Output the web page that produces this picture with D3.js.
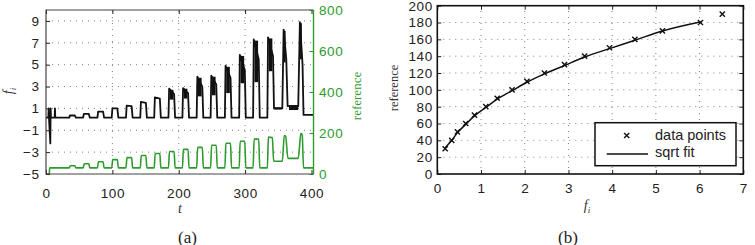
<!DOCTYPE html>
<html>
<head>
<meta charset="utf-8">
<script src="https://d3js.org/d3.v7.min.js"></script>
<style>
  body { margin: 0; background: #fff; }
  text { font-family: "Liberation Sans", Arial, sans-serif; }
</style>
</head>
<body>
<script>
// ---- panel (a): f_i over time (black) and reference (green) ----
var fLine = [
  [0,0.15],[3.5,0.15],[4,1],[4.5,0.1],[6.5,-2.2],[7,1],[7.5,0.15],[13,0.15],[13.5,1],[14,0.15],
  [35,0.15],[36,0.35],[43.5,0.35],[45,0.15],
  [56,0.15],[57,0.5],[64.5,0.5],[66,0.15],
  [77.5,0.15],[78.5,0.7],[86,0.7],[87.5,0.15],
  [99,0.15],[100,1.0],[107.5,1.0],[109,0.15],
  [120.5,0.15],[121.5,1.25],[129,1.2],[130.5,0.15],
  [142,0.15],[143,1.6],[150.5,1.5],[152,0.15],
  [163,0.15],[164,2.0],[171.5,1.9],[173,0.15],
  [184.5,0.15],[185.5,2.8],[193,2.3],[194.5,0.15],
  [205.5,0.15],[206.5,2.85],[214,2.4],[215.5,0.15],
  [227,0.15],[228,3.9],[235.5,3.0],[237,0.15],
  [248,0.15],[249,4.0],[256.5,3.2],[258,0.15],
  [269.5,0.15],[270.5,4.9],[278,3.8],[279.5,0.15],
  [291,0.15],[292,5.9],[299.5,4.5],[301,0.15],
  [312,0.15],[313,7.3],[320.5,5.5],[322,0.15],
  [333.5,0.15],[334.5,7.5],[342,5.8],[343.5,1.0],
  [356,1.0],[358,8.2],[362,5.5],[364,1.2],
  [380,1.2],[382.5,8.9],[386.5,5],[388,0.4],
  [403,0.4]
];
// noisy parts of the black pulses
var bandT0 = [186.5,207.5,229,250,271.5,293,314,335.5,358.2,382.7,366,344];
var bandT1 = [192,213,234.5,255.5,277,298.5,319.5,341,361,385.5,380,355];
var bandLo = [1.8,1.9,2.1,2.2,2.4,3.3,3.4,4.4,5.2,5.5,0.85,0.9];
var bandHi = [2.7,2.8,3.8,3.9,4.8,5.8,7.2,7.4,8.1,8.8,1.3,1.1];

var refLine = [
  [0,0],[5,0],[5.5,30],
  [35,30],[36.5,40],[43.5,40],[45,30],
  [56,30],[57.5,50],[64.5,50],[66,30],
  [77.5,30],[79,60],[86,60],[87.5,30],
  [99,30],[100.5,70],[107.5,70],[109,30],
  [120.5,30],[122,80],[129,80],[130.5,30],
  [142,30],[143.5,90],[150.5,90],[152,30],
  [163,30],[164.5,100],[171.5,100],[173,30],
  [184.5,30],[186,110],[193,110],[194.5,30],
  [205.5,30],[207,120],[214,120],[215.5,30],
  [227,30],[228.5,130],[235.5,130],[237,30],
  [248,30],[249.5,140],[256.5,140],[258,30],
  [269.5,30],[271,150],[278,150],[279.5,30],
  [291,30],[292.5,160],[299.5,160],[301,30],
  [312,30],[313.5,170],[320.5,170],[322,30],
  [333.5,30],[335,180],[341,178],[343,62],
  [356,62],[359,188],[361,185],[364.5,76],
  [380,76],[384,198],[386,190],[388,30],
  [403,30]
];
var tTicks = [0,100,200,300,400];
var fTicks = [-5,-3,-1,1,3,5,7,9];
var refTicks = [0,200,400,600,800];

// ---- panel (b): reference vs f_i ----
var ptF   = [0.18,0.33,0.46,0.65,0.85,1.11,1.37,1.71,2.05,2.45,2.91,3.37,3.94,4.52,5.15,6.02,6.52];
var ptRef = [30,40,50,60,70,80,90,100,110,120,130,140,150,160,170,180,190];
var fitF   = [0.18,0.33,0.46,0.65,0.85,1.11,1.37,1.71,2.05,2.45,2.91,3.37,3.94,4.52,5.15,6.04];
var fitRef = [31,40,49,59,69,79,89,99,109,119,129,139,149,159,170,181];
var bxTicks = [0,1,2,3,4,5,6,7];
var byTicks = [0,20,40,60,80,100,120,140,160,180,200];

var green = "#2d9b2d";
var sans = "'Liberation Sans', Arial, Helvetica, sans-serif";
var serif = "'Liberation Serif', 'Times New Roman', serif";
var svg = d3.select("body").append("svg").attr("width", 755).attr("height", 245);

function grid(g, xs, ys, xv, yv) {
  var gg = g.append("g").attr("stroke", "#808080").attr("stroke-width", 1).attr("stroke-dasharray", "1,5");
  yv.forEach(function(v){
    gg.append("line").attr("x1", xs.range()[0]).attr("x2", xs.range()[1]).attr("y1", ys(v)).attr("y2", ys(v));
  });
  xv.forEach(function(v){
    gg.append("line").attr("y1", ys.range()[0]).attr("y2", ys.range()[1]).attr("x1", xs(v)).attr("x2", xs(v));
  });
}
function styleAxis(sel, col) {
  sel.attr("font-family", sans).attr("font-size", 13.5);
  sel.select(".domain").remove();
  sel.selectAll("line").attr("stroke", col);
  sel.selectAll("text").attr("fill", col).style("font-family", sans).style("font-size", "13.5px")
    .style("letter-spacing", "0.6px");
}

// ================= panel (a) =================
var xa = d3.scaleLinear().domain([0,403]).range([46,313.5]);
var ya = d3.scaleLinear().domain([-5,10]).range([174,10]);
var yr = d3.scaleLinear().domain([0,800]).range([174,10]);
var ga = svg.append("g");

grid(ga, xa, ya, [100,200,300], [-3,-1,1,3,5,7,9]);

ga.append("path").datum(refLine)
  .attr("fill", "none").attr("stroke", green).attr("stroke-width", 1.6)
  .attr("d", d3.line().x(function(d){ return xa(d[0]); }).y(function(d){ return yr(d[1]); }).curve(d3.curveMonotoneX));

ga.append("path").datum(fLine)
  .attr("fill", "none").attr("stroke", "#111").attr("stroke-width", 1.8).attr("stroke-linejoin", "round")
  .attr("d", d3.line().x(function(d){ return xa(d[0]); }).y(function(d){ return ya(d[1]); }));

ga.selectAll("rect.band").data(bandT0).enter().append("rect").attr("class", "band")
  .attr("x", function(d){ return xa(d); })
  .attr("width", function(d,i){ return xa(bandT1[i]) - xa(d); })
  .attr("y", function(d,i){ return ya(bandHi[i]); })
  .attr("height", function(d,i){ return ya(bandLo[i]) - ya(bandHi[i]); })
  .attr("fill", "#111");

ga.append("g").attr("transform", "translate(0,174)")
  .call(d3.axisBottom(xa).tickValues(tTicks).tickSize(-4).tickPadding(14.5).tickFormat(d3.format("d")))
  .call(styleAxis, "#222");
ga.append("g").attr("transform", "translate(0,10)")
  .call(d3.axisTop(xa).tickValues(tTicks).tickSize(-4).tickFormat(""))
  .call(styleAxis, "#222");
ga.append("g").attr("transform", "translate(46,0)")
  .call(d3.axisLeft(ya).tickValues(fTicks).tickSize(-4).tickPadding(6.5).tickFormat(d3.format("d")))
  .call(styleAxis, "#222");
ga.append("g").attr("transform", "translate(313.5,0)")
  .call(d3.axisRight(yr).tickValues(refTicks).tickSize(-4).tickPadding(5.5).tickFormat(d3.format("d")))
  .call(styleAxis, green);

ga.append("path").attr("fill", "none").attr("stroke", "#444").attr("stroke-width", 1.2)
  .attr("d", "M" + xa(403) + "," + ya(10) + "H" + xa(0) + "V" + ya(-5) + "H" + xa(403));
ga.append("line").attr("x1", xa(403)).attr("x2", xa(403)).attr("y1", yr(0)).attr("y2", yr(800))
  .attr("stroke", green).attr("stroke-width", 1.4);

ga.append("text").attr("transform", "translate(13,91) rotate(-90)").attr("text-anchor", "middle")
  .style("font-family", serif).style("font-style", "italic").style("font-size", "14px").attr("fill", "#333")
  .text("f").append("tspan").attr("dy", 3).style("font-size", "9px").text("i");
ga.append("text").attr("transform", "translate(361,96) rotate(-90)").attr("text-anchor", "middle")
  .style("font-family", serif).style("font-size", "13px").attr("fill", green)
  .text("reference");
ga.append("text").attr("x", 180).attr("y", 212.5).attr("text-anchor", "middle")
  .style("font-family", serif).style("font-style", "italic").style("font-size", "14px").attr("fill", "#333")
  .text("t");
ga.append("text").attr("x", 187.5).attr("y", 243).attr("text-anchor", "middle")
  .style("font-family", serif).style("font-size", "17px").attr("fill", "#222")
  .text("(a)");

// ================= panel (b) =================
var xb = d3.scaleLinear().domain([0,7]).range([437.3,743.3]);
var yb = d3.scaleLinear().domain([0,200]).range([174,5.7]);
var gb = svg.append("g");

grid(gb, xb, yb, [1,2,3,4,5,6], [20,40,60,80,100,120,140,160,180]);

gb.append("g").attr("transform", "translate(0,174)")
  .call(d3.axisBottom(xb).tickValues(bxTicks).tickSize(-4).tickPadding(9).tickFormat(d3.format("d")))
  .call(styleAxis, "#222");
gb.append("g").attr("transform", "translate(0,5.7)")
  .call(d3.axisTop(xb).tickValues(bxTicks).tickSize(-4).tickFormat(""))
  .call(styleAxis, "#222");
gb.append("g").attr("transform", "translate(437.3,0)")
  .call(d3.axisLeft(yb).tickValues(byTicks).tickSize(-4).tickPadding(4.5).tickFormat(d3.format("d")))
  .call(styleAxis, "#222");
gb.append("g").attr("transform", "translate(743.3,0)")
  .call(d3.axisRight(yb).tickValues(byTicks).tickSize(-4).tickFormat(""))
  .call(styleAxis, "#222");

var fitPts = fitF.map(function(f,i){ return [f, fitRef[i]]; });
gb.append("path").datum(fitPts)
  .attr("fill", "none").attr("stroke", "#111").attr("stroke-width", 1.5)
  .attr("d", d3.line().x(function(d){ return xb(d[0]); }).y(function(d){ return yb(d[1]); }).curve(d3.curveMonotoneX));

var cross = "M-2.6,-2.6L2.6,2.6M-2.6,2.6L2.6,-2.6";
gb.selectAll("path.pt").data(ptF).enter().append("path").attr("class", "pt")
  .attr("transform", function(d,i){ return "translate(" + xb(d) + "," + yb(ptRef[i]) + ")"; })
  .attr("d", cross).attr("stroke", "#111").attr("stroke-width", 1.4).attr("fill", "none");

gb.append("rect").attr("x", xb(0)).attr("y", yb(200)).attr("width", xb(7) - xb(0)).attr("height", yb(0) - yb(200))
  .attr("fill", "none").attr("stroke", "#111").attr("stroke-width", 1.6);

// legend
var lg = gb.append("g");
lg.append("rect").attr("x", 595).attr("y", 122.7).attr("width", 141).attr("height", 43)
  .attr("fill", "#fff").attr("stroke", "#111").attr("stroke-width", 1.5);
lg.append("path").attr("transform", "translate(626.7,135.5)").attr("d", cross)
  .attr("stroke", "#111").attr("stroke-width", 1.4);
lg.append("line").attr("x1", 606.7).attr("x2", 648).attr("y1", 154).attr("y2", 154)
  .attr("stroke", "#111").attr("stroke-width", 1.4);
lg.append("text").attr("x", 655).attr("y", 140).style("font-family", sans).style("font-size", "14.5px").attr("fill", "#222").text("data points");
lg.append("text").attr("x", 655).attr("y", 157).style("font-family", sans).style("font-size", "14.5px").attr("fill", "#222").text("sqrt fit");

gb.append("text").attr("transform", "translate(398,88) rotate(-90)").attr("text-anchor", "middle")
  .style("font-family", serif).style("font-size", "12.5px").attr("fill", "#333")
  .text("reference");
gb.append("text").attr("x", 587).attr("y", 210).attr("text-anchor", "middle")
  .style("font-family", serif).style("font-style", "italic").style("font-size", "14px").attr("fill", "#333")
  .text("f").append("tspan").attr("dy", 3).style("font-size", "9px").text("i");
gb.append("text").attr("x", 568).attr("y", 243).attr("text-anchor", "middle")
  .style("font-family", serif).style("font-size", "17px").attr("fill", "#222")
  .text("(b)");
</script>
</body>
</html>
